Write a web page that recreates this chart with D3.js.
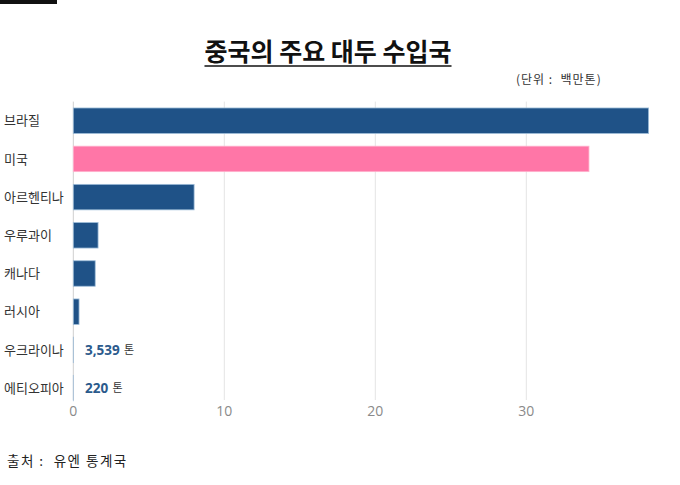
<!DOCTYPE html>
<html><head><meta charset="utf-8">
<script src="https://cdn.jsdelivr.net/npm/d3@7"></script>
<style>
body{margin:0;background:#fff;}
svg{display:block;font-family:"Noto Sans CJK KR","Noto Sans",sans-serif;}
text{white-space:pre;}
</style></head>
<body>
<svg id="c" width="680" height="485"></svg>
<script>
const categories = ["브라질","미국","아르헨티나","우루과이","캐나다","러시아","우크라이나","에티오피아"];
const values = [38.1, 34.15, 8.0, 1.64, 1.45, 0.38, 0.003539, 0.00022]; // 백만톤
const highlight = ["미국"];
const smallLabels = [{cat:"우크라이나", text:"3,539"},{cat:"에티오피아", text:"220"}];
const ticks = [0,10,20,30];

const svg = d3.select("#c");
const x = d3.scaleLinear().domain([0,40]).range([73.3, 677.3]);
const y = d3.scaleBand().domain(categories).range([101.6, 407.2]).paddingInner(0.333).paddingOuter(0.167);

// top-left black bar
svg.append("rect").attr("x",0).attr("y",0).attr("width",57).attr("height",4).attr("fill","#111");

// title
const title = svg.append("text").attr("x",328).attr("y",61).attr("text-anchor","middle")
  .attr("font-size",25).attr("font-weight","bold").attr("fill","#111").text("중국의 주요 대두 수입국");
const tb = title.node().getBBox();
svg.append("line").attr("x1",tb.x).attr("x2",tb.x+tb.width).attr("y1",66).attr("y2",66)
  .attr("stroke","#111").attr("stroke-width",1.6);

svg.append("text").attr("x",516).attr("y",84).attr("font-size",12).attr("letter-spacing",1)
  .attr("fill","#333").text("(단위 :  백만톤)");

// gridlines
svg.append("g").selectAll("line").data(ticks).join("line")
  .attr("x1",d=>x(d)).attr("x2",d=>x(d)).attr("y1",101.6).attr("y2",400)
  .attr("stroke",d=>d===0?"#cfcfcf":"#e4e4e4").attr("stroke-width",1);

// tick labels
svg.append("g").selectAll("text").data(ticks).join("text")
  .attr("x",d=>x(d)).attr("y",416).attr("text-anchor","middle")
  .attr("font-size",14).attr("fill","#8a8a8a").attr("font-family","'Open Sans','Noto Sans',sans-serif")
  .text(d=>d);

// bars
const data = categories.map((c,i)=>({c, v:values[i]}));
svg.append("g").selectAll("rect").data(data).join("rect")
  .attr("x",x(0)).attr("y",d=>y(d.c)).attr("width",d=>x(d.v)-x(0)).attr("height",y.bandwidth())
  .attr("fill",d=>highlight.includes(d.c)?"#ff76a7":"#1f5287")
  .attr("stroke",d=>highlight.includes(d.c)?"#ffb3cd":"#9dbcd8").attr("stroke-width",0.8);

// category labels
svg.append("g").selectAll("text").data(categories).join("text")
  .attr("x",4).attr("y",d=>y(d)+y.bandwidth()/2).attr("dy","0.36em")
  .attr("font-size",13).attr("fill","#333").text(d=>d);

// small value labels
const sl = svg.append("g").selectAll("g").data(smallLabels).join("g")
  .attr("transform",d=>`translate(85,${y(d.cat)+y.bandwidth()/2})`);
sl.append("text").attr("dy","0.36em").attr("font-size",13.5).attr("font-weight","bold")
  .attr("fill","#2b5a8c").attr("font-family","'Open Sans','Noto Sans',sans-serif").text(d=>d.text)
  .each(function(){ const w=this.getBBox().width; d3.select(this.parentNode).append("text")
     .attr("x",w+4).attr("dy","0.36em").attr("font-size",11).attr("fill","#333").text("톤"); });

// source
svg.append("text").attr("x",7).attr("y",466).attr("font-size",13.5).attr("letter-spacing",1.5)
  .attr("fill","#222").text("출처 :  유엔 통계국");
</script>
</body></html>
